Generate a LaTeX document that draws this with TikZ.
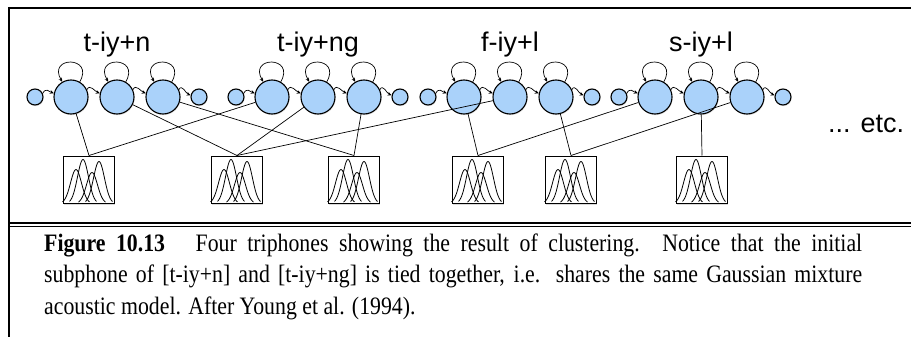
\documentclass[tikz,border=0pt]{standalone}
\usepackage{fontspec}
\setmainfont{Liberation Serif}
\newfontfamily\lblfont{Liberation Sans}
\usepackage{xcolor}
\usetikzlibrary{arrows.meta,shadows}
\definecolor{hmmblue}{RGB}{170,210,250}

\begin{document}
\begin{tikzpicture}[x=1pt,y=-1pt,
  bigstate/.style={circle,draw,line width=1.1pt,fill=hmmblue,minimum size=34pt,inner sep=0pt,
    drop shadow={opacity=0.25,shadow xshift=0.6pt,shadow yshift=-1.2pt}},
  endstate/.style={bigstate,minimum size=16pt},
  gmm/.style={draw,line width=1pt,fill=white,minimum width=51pt,minimum height=47pt,inner sep=0pt,
    drop shadow={opacity=0.3,shadow xshift=0.5pt,shadow yshift=-2pt}},
  trans/.style={-{Stealth[length=4pt,width=3.6pt]},line width=0.7pt},
  tie/.style={line width=0.7pt},
  bell/.style={line width=0.8pt},
  triname/.style={font=\lblfont\fontsize{27}{30}\selectfont,anchor=base,inner sep=0pt}]
  \useasboundingbox (0,0) rectangle (911,337);
  % frame
  \draw[line width=2pt] (8,8) -- (911,8);
  \draw[line width=2pt] (9,7) -- (9,337);
  \draw[line width=2.2pt] (9,223.2) -- (911,223.2);
  \draw[line width=1.6pt] (9,226.4) -- (911,226.4);
  % the four triphone HMMs
  \foreach \t/\bx/\lab in {1/71/t-iy+n,2/272/t-iy+ng,3/464/f-iy+l,4/655/s-iy+l}{
    \node[triname] (t\t lab) at (\bx+46,52) {\lab};
    \node[endstate] (t\t s0) at (\bx-36,97) {};
    \node[bigstate] (t\t s1) at (\bx,97) {};
    \node[bigstate] (t\t s2) at (\bx+46,97) {};
    \node[bigstate] (t\t s3) at (\bx+92,97) {};
    \node[endstate] (t\t s4) at (\bx+128,97) {};
    \foreach \j/\k in {0/1,1/2,2/3,3/4}
      \draw[trans] (t\t s\j.25) .. controls +(3,-6) and +(-5,-2) .. (t\t s\k.168);
    \foreach \j in {1,2,3}
      \draw[trans] (t\t s\j.60) .. controls +(15,-26) and +(-15,-26) .. (t\t s\j.120);
  }
  \node[triname,anchor=base west] (etc) at (828,132) {... etc.};
  % shared gaussian mixtures
  \foreach \g/\gx in {1/89,2/237,3/354,4/478,5/571,6/702}
    \node[gmm] (g\g) at (\gx,179.5) {};
  \foreach \g in {1,...,6}{
    \begin{scope}[shift={(g\g.south west)}]
      \foreach \mx/\h in {20/44,36/42,13/34,29/31}
        \draw[bell] plot[domain=-13.5:13.5,samples=35,smooth,variable=\u]
          ({\mx+\u},{-\h*exp(-(\u*\u)/60)});
    \end{scope}
  }
  % tied states
  \draw[tie] (t1s1) -- (g1.north);
  \draw[tie] (t2s1) -- (g1.north);
  \draw[tie] (t1s2) -- (g2.north);
  \draw[tie] (t2s2) -- (g2.north);
  \draw[tie] (t3s2) -- (g2.north);
  \draw[tie] (t1s3) -- (g3.north);
  \draw[tie] (t2s3) -- (g3.north);
  \draw[tie] (t3s1) -- (g4.north);
  \draw[tie] (t4s1) -- (g4.north);
  \draw[tie] (t3s3) -- (g5.north);
  \draw[tie] (t4s3) -- (g5.north);
  \draw[tie] (t4s2) -- (g6.north);
  % caption
  \node[anchor=base west,text width=818pt,align=justify,inner sep=0pt,yscale=1.15,transform shape,
    font=\fontsize{21.8}{27.4}\selectfont] (cap) at (44,251)
    {\textbf{Figure 10.13}\hspace{1.4em}Four triphones showing the result of clustering.
     Notice that the initial\linebreak subphone of [t-iy+n] and [t-iy+ng] is tied together,
     i.e. shares the same Gaussian mixture\linebreak acoustic model. After Young et al. (1994).};
\end{tikzpicture}
\end{document}
